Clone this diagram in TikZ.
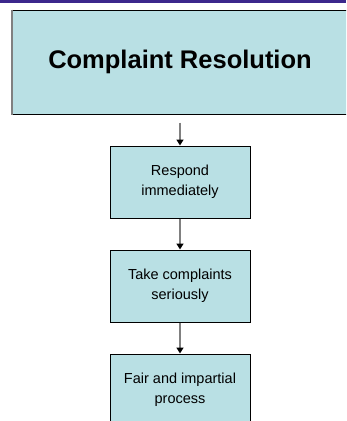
\documentclass[tikz,border=0pt]{standalone}
\usepackage{fontspec}
\setmainfont{Liberation Sans}
\usetikzlibrary{arrows.meta}
\definecolor{boxfill}{RGB}{185,224,228}
\definecolor{barpurple}{RGB}{60,40,140}
\definecolor{linkgray}{RGB}{128,128,128}
\tikzset{
	titlebox/.style={draw=black,line width=1pt,fill=boxfill,minimum width=336pt,minimum height=104pt,inner sep=0pt,font=\fontsize{25.5}{30}\selectfont\bfseries},
	stepbox/.style={draw=black,line width=1pt,fill=boxfill,minimum width=140pt,minimum height=72pt,align=center,inner sep=0pt,font=\fontsize{14.5}{20}\selectfont},
	link/.style={draw=linkgray,line width=1.5pt,-{Triangle[color=black,width=7pt,length=6pt]}}
}

\begin{document}
\begin{tikzpicture}[x=1pt,y=-1pt]
	\useasboundingbox (0,0) rectangle (346,421);
	\clip (0,0) rectangle (346,421);
	\fill[barpurple] (0,0) rectangle (346,2.5);
	\node at (180,62)[titlebox] (title) {Complaint Resolution};
	\draw[linkgray,line width=2pt] (title.north west) -- (title.south west);
	\node at (180,182)[stepbox] (respond) {Respond\\immediately};
	\node at (180,286)[stepbox] (serious) {Take complaints\\seriously};
	\node at (180,390)[stepbox] (fair) {Fair and impartial\\process};
	\draw[link,shorten <=8pt] (title) -- (respond);
	\draw[link] (respond) -- (serious);
	\draw[link] (serious) -- (fair);
\end{tikzpicture}
\end{document}
